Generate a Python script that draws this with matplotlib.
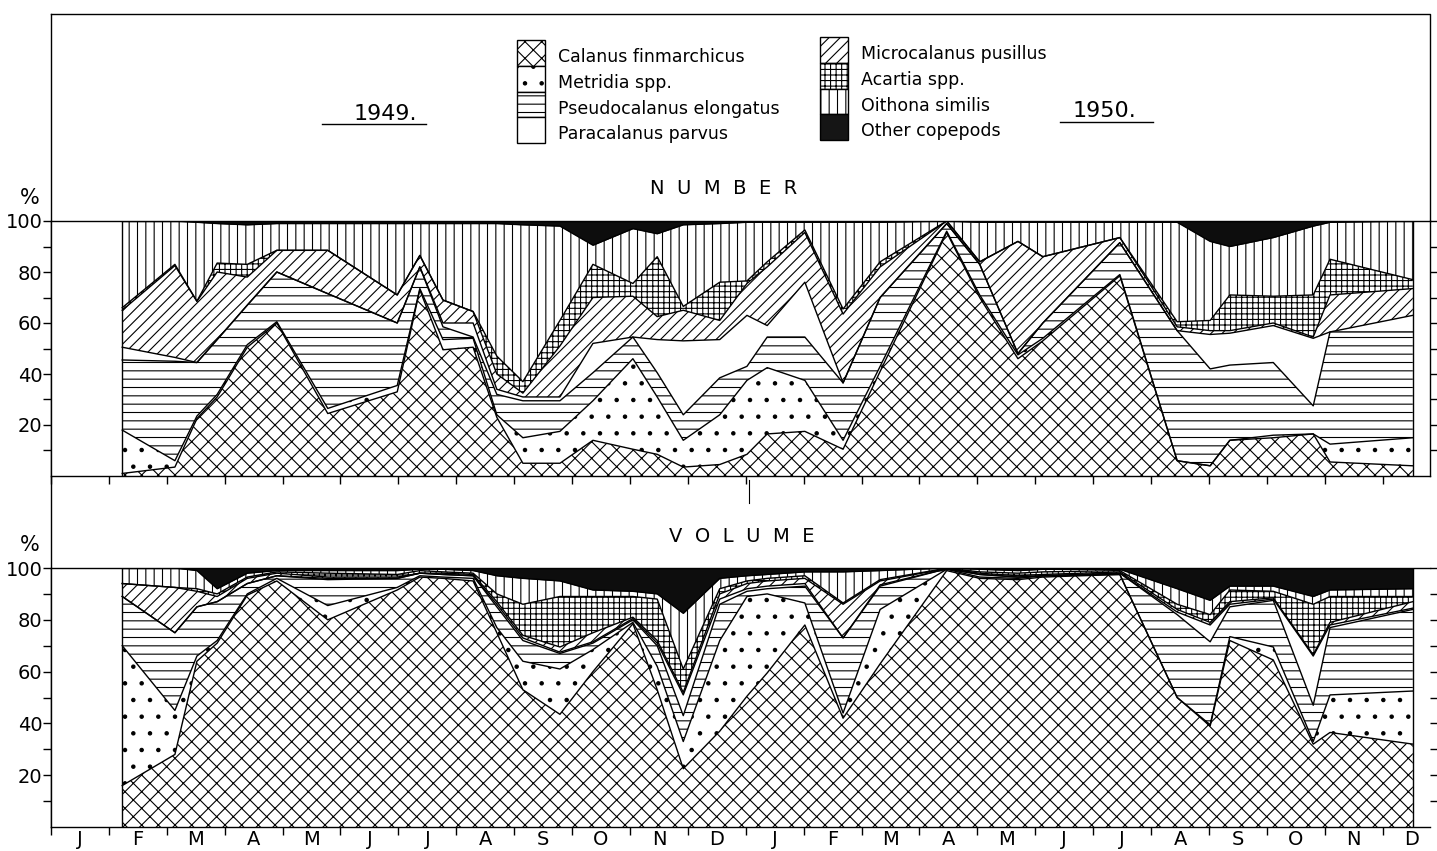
import matplotlib.pyplot as plt
import numpy as np
from matplotlib.patches import Rectangle

plt.rcParams['font.family'] = ['DejaVu Sans']
plt.rcParams['hatch.color'] = 'black'
plt.rcParams['hatch.linewidth'] = 0.8

# sampling dates, months counted from 1 Jan 1949
dates = [1.23, 2.14, 2.52, 2.87, 3.39, 3.90, 4.78, 5.98, 6.37, 6.77, 7.29, 7.70,
         8.15, 8.79, 9.36, 10.05, 10.47, 10.92, 11.55, 12.02, 12.37, 13.02, 13.68, 14.32,
         15.47, 16.04, 16.70, 17.13, 18.46, 19.45, 20.02, 20.36, 21.11, 21.80, 22.09, 23.52]

months = ["J", "F", "M", "A", "M", "J", "J", "A", "S", "O", "N", "D"] * 2

species = ["Calanus finmarchicus", "Metridia spp.", "Pseudocalanus elongatus",
           "Paracalanus parvus", "Microcalanus pusillus", "Acartia spp.",
           "Oithona similis", "Other copepods"]
hatches = ['xx', '.', '--', '', '///', '+++', '||', None]

# NUMBER: cumulative % (upper edge of each band, stacked in legend order)
num_calanus = [1, 3.5, 22.5, 31, 50.5, 60, 24.5, 33, 73, 49.5, 50.5, 23, 5, 5, 14, 10.5, 8.5, 3.5,
               4.5, 8.5, 16.5, 17.5, 10.5, 41, 95.5, 70, 46, 53, 78.5, 6, 4, 14, 15, 16.5, 5.5, 4]
num_metridia = [18, 6, 23.5, 32, 51.5, 60.5, 26.5, 35.5, 73.5, 53.5, 54, 24, 15, 17.5, 29.5, 46, 31, 14,
                24, 37.5, 42.5, 37.5, 14, 43, 96, 71, 47.5, 54, 79, 6, 4, 14, 16, 16.5, 12.5, 15]
num_pseudo = [45.5, 45, 44.5, 53.5, 67, 80, 71.5, 60, 82, 58.5, 54.5, 32, 29.5, 29.5, 40.5, 54.5, 40.5, 24,
              38.5, 43, 54.5, 54.5, 36.5, 70, 99, 83, 48, 60, 91.5, 57, 42, 43.5, 44.5, 27.5, 56.5, 56.5]
num_paracal = [50.5, 46.5, 44.5, 53.5, 67, 80, 71.5, 60, 82, 60, 60, 34, 31, 31, 52, 54.5, 53.5, 53,
               53.5, 63, 59, 76, 36.5, 70, 99, 83, 48, 60, 91.5, 57, 55.5, 56, 59, 54, 56.5, 63]
num_microcal = [65, 82.5, 68.5, 80, 78, 88.5, 88.5, 71, 86.5, 69, 64.5, 40, 32.5, 51, 70, 70.5, 62.5, 65,
                61, 75.5, 82, 95.5, 63.5, 82, 100, 84, 92, 86, 93.5, 58.5, 57, 57, 60, 54.5, 71, 73.5]
num_acartia = [66, 83, 68.5, 83.5, 83, 88.5, 88.5, 71, 86.5, 69, 64.5, 47, 37, 61, 83, 75.5, 86, 66.5,
               76, 76.5, 84, 96.5, 65.5, 84, 100, 84, 92, 86, 93.5, 60.5, 61, 71, 70.5, 71, 85, 77]
num_oithona = [100, 100, 99.5, 99, 98.5, 99, 99, 99, 99, 99, 99, 99, 98.5, 98, 90.5, 97, 95, 98.5,
               99, 99.5, 99.5, 99.5, 99.5, 99.5, 100, 99.5, 99.5, 99.5, 99.5, 99.5, 92, 90, 93.5, 98, 99.5, 100]

# VOLUME: cumulative %
vol_calanus = [16, 28, 64, 71, 89.5, 95, 80, 91.5, 96.5, 96, 95, 75, 53, 43.5, 60, 78.5, 53, 22.5,
               37, 50.5, 59.5, 78, 42, 63, 99, 96, 95.5, 96.5, 97.5, 50, 39, 72, 64.5, 32, 36.5, 32]
vol_metridia = [70, 45, 66, 72, 90, 96, 85.5, 92.5, 97, 96.5, 96, 77, 64, 61, 68.5, 79, 62, 33,
                72, 89, 90, 86.5, 44, 84, 99.5, 96.5, 96, 97, 97.5, 50, 39.5, 73.5, 69.5, 33, 51, 52.5]
vol_pseudo = [89, 75, 85, 87, 94, 97, 95.5, 96, 98, 97.5, 97, 85, 72, 67, 71, 80, 70, 43,
              86, 91, 92, 93, 73, 93, 99.7, 97.5, 96.5, 97, 98, 82, 71.5, 85, 87.5, 47, 77, 84]
vol_paracal = [89, 75, 85, 87, 94, 97, 96, 96, 98, 97.5, 97, 86, 73, 67.5, 71.5, 80.5, 71, 51,
               88, 92, 93, 94, 73, 93.5, 99.7, 97.5, 96.5, 97, 98, 83, 78, 86, 88, 66, 78, 84.5]
vol_microcal = [94, 92.5, 91, 89, 96, 98, 96.5, 96.5, 98, 98, 97.5, 87, 74, 69.5, 75, 81, 72, 52,
                90, 94, 95, 96, 86, 95, 99.8, 98, 97, 97.5, 98.5, 84, 79, 87, 88.5, 66.5, 79, 87]
vol_acartia = [94, 92.5, 92, 90, 96.5, 98.5, 98, 97.5, 99, 98.5, 98, 90, 86, 89, 89, 89, 88, 61,
               92, 95, 96, 97, 86.5, 95.5, 99.9, 98.5, 98, 98.5, 99, 86, 82, 91.5, 91, 86, 89, 89]
vol_oithona = [100, 100, 99, 92, 98, 99, 99, 99, 99.5, 99.5, 99, 97, 96, 95, 91.5, 91, 90, 82.5,
               96, 97, 97.5, 98.5, 98.5, 99, 100, 99.5, 99, 99.5, 99.5, 92, 87.5, 93, 93, 89, 91.5, 92]

W, H = 1437, 851


def box(x0, y0, x1, y1):
    return [x0 / W, 1 - y1 / H, (x1 - x0) / W, (y1 - y0) / H]


def draw_panel(ax, tops, labels):
    x = np.array(dates)
    lower = np.zeros(len(x))
    tops = [np.array(t, float) for t in tops] + [np.full(len(x), 100.0)]
    for top, hatch in zip(tops, hatches):
        if hatch is None:
            ax.fill_between(x, lower, top, facecolor='#0d0d0d', edgecolor='black', linewidth=0)
        else:
            ax.fill_between(x, lower, top, facecolor='white', edgecolor='black',
                            hatch=hatch, linewidth=0)
        ax.plot(x, top, color='black', lw=1.0)
        lower = top
    ax.vlines([x[0], x[-1]], 0, 100, color='black', lw=1.0)

    ax.set_xlim(0, (1430 - 51) / 57.9)
    ax.set_ylim(0, 100)
    ax.set_yticks([20, 40, 60, 80, 100])
    ax.set_yticklabels(['20', '40', '60', '80', '100'], fontsize=14)
    ax.set_yticks(range(10, 100, 10), minor=True)
    ax.tick_params(axis='y', which='both', direction='out', length=6, width=1, pad=0,
                   right=True)
    ax.set_xticks(range(0, 24))
    ax.tick_params(axis='x', which='major', direction='out', length=6, width=1)
    ax.set_xticklabels([])
    if labels:
        ax.set_xticks(np.arange(24) + 0.5, minor=True)
        ax.set_xticklabels(months, minor=True, fontsize=14)
        ax.tick_params(axis='x', which='minor', length=0, pad=2)
    for s in ax.spines.values():
        s.set_linewidth(1.0)


fig = plt.figure(figsize=(W / 100, H / 100), dpi=100)

over = fig.add_axes([0, 0, 1, 1])
over.set_xlim(0, W)
over.set_ylim(H, 0)
over.axis('off')

ax_num = fig.add_axes(box(51, 221, 1430, 476))
draw_panel(ax_num, [num_calanus, num_metridia, num_pseudo, num_paracal,
                    num_microcal, num_acartia, num_oithona], labels=False)

ax_vol = fig.add_axes(box(51, 568, 1430, 827))
draw_panel(ax_vol, [vol_calanus, vol_metridia, vol_pseudo, vol_paracal,
                    vol_microcal, vol_acartia, vol_oithona], labels=True)
ax_vol.spines['right'].set_visible(False)

# frame around the legend area and the left rule
over.plot([51, 1430, 1430], [14, 14, 221], color='black', lw=1.0)
over.plot([51, 51], [14, 827], color='black', lw=1.0)
over.plot([749, 749], [480, 503], color='black', lw=0.8)

# legend
for i, name in enumerate(species):
    col, row = divmod(i, 4)
    x0 = 517 if col == 0 else 820
    y0 = (40 if col == 0 else 37) + row * 25.8
    h = hatches[i]
    if h is None:
        over.add_patch(Rectangle((x0, y0), 28, 25.8, facecolor='#151515',
                                 edgecolor='black', lw=1.0))
    else:
        over.add_patch(Rectangle((x0, y0), 28, 25.8, facecolor='white',
                                 edgecolor='black', hatch=h, lw=1.0))
    over.text(x0 + 41, y0 + 17, name, fontsize=12.5, va='center', ha='left')

over.text(385, 114, "1949.", fontsize=16, ha='center', va='center')
over.plot([322, 426], [124, 124], color='black', lw=1.0)
over.text(1104, 111, "1950.", fontsize=16, ha='center', va='center')
over.plot([1060, 1153], [122, 122], color='black', lw=1.0)

over.text(724, 189, "N  U  M  B  E  R", fontsize=14, ha='center', va='center')
over.text(742, 536, "V  O  L  U  M  E", fontsize=14, ha='center', va='center')
over.text(30, 198, "%", fontsize=15, ha='center', va='center')
over.text(30, 545, "%", fontsize=15, ha='center', va='center')

fig.savefig("out.png", dpi=100)
